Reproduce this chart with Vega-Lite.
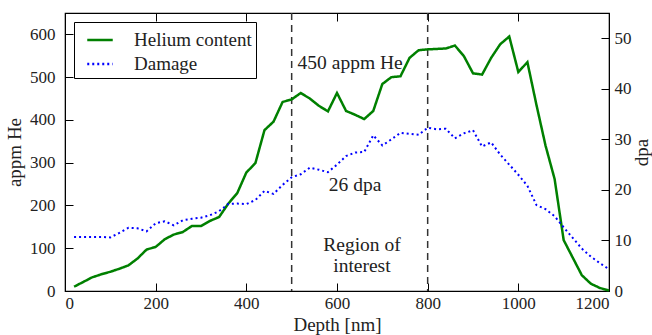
{
  "$schema": "https://vega.github.io/schema/vega-lite/v6.json",
  "width": 544,
  "height": 278,
  "autosize": {"type": "none"},
  "padding": {"left": 65, "top": 13, "right": 43, "bottom": 44},
  "background": "white",
  "config": {
    "font": "Liberation Serif",
    "view": {"stroke": "black", "strokeWidth": 1.2},
    "axis": {
      "labelFont": "Liberation Serif",
      "labelFontSize": 17,
      "titleFont": "Liberation Serif",
      "titleFontSize": 19,
      "titleFontWeight": "normal",
      "labelColor": "#222",
      "titleColor": "#222",
      "tickColor": "black",
      "domainColor": "black",
      "grid": false,
      "tickSize": -8,
      "labelPadding": 12,
      "format": "d"
    },
    "legend": {
      "labelFont": "Liberation Serif",
      "labelFontSize": 19,
      "labelColor": "#222"
    }
  },
  "datasets": {
    "rules": [{"depth": 500}, {"depth": 800}],
    "helium": [
      {"depth": 20, "appm": 10}, {"depth": 40, "appm": 21}, {"depth": 60, "appm": 32}, {"depth": 80, "appm": 39},
      {"depth": 100, "appm": 45}, {"depth": 120, "appm": 52}, {"depth": 140, "appm": 60}, {"depth": 160, "appm": 76},
      {"depth": 180, "appm": 97}, {"depth": 200, "appm": 103}, {"depth": 220, "appm": 121}, {"depth": 240, "appm": 132},
      {"depth": 260, "appm": 138}, {"depth": 280, "appm": 152}, {"depth": 300, "appm": 152}, {"depth": 320, "appm": 164},
      {"depth": 340, "appm": 173}, {"depth": 360, "appm": 204}, {"depth": 380, "appm": 229}, {"depth": 400, "appm": 277},
      {"depth": 420, "appm": 299}, {"depth": 440, "appm": 376}, {"depth": 460, "appm": 396}, {"depth": 480, "appm": 442},
      {"depth": 500, "appm": 448}, {"depth": 520, "appm": 463}, {"depth": 540, "appm": 450}, {"depth": 560, "appm": 433},
      {"depth": 580, "appm": 420}, {"depth": 600, "appm": 463}, {"depth": 620, "appm": 421}, {"depth": 640, "appm": 412},
      {"depth": 660, "appm": 402}, {"depth": 680, "appm": 421}, {"depth": 700, "appm": 484}, {"depth": 720, "appm": 500},
      {"depth": 740, "appm": 502}, {"depth": 760, "appm": 545}, {"depth": 780, "appm": 563}, {"depth": 800, "appm": 565},
      {"depth": 820, "appm": 566}, {"depth": 840, "appm": 567}, {"depth": 860, "appm": 574}, {"depth": 880, "appm": 549},
      {"depth": 900, "appm": 509}, {"depth": 920, "appm": 506}, {"depth": 940, "appm": 545}, {"depth": 960, "appm": 577},
      {"depth": 980, "appm": 595}, {"depth": 1000, "appm": 512}, {"depth": 1020, "appm": 535}, {"depth": 1040, "appm": 435},
      {"depth": 1060, "appm": 340}, {"depth": 1080, "appm": 262}, {"depth": 1100, "appm": 119}, {"depth": 1120, "appm": 78},
      {"depth": 1140, "appm": 37}, {"depth": 1160, "appm": 17}, {"depth": 1180, "appm": 7}, {"depth": 1200, "appm": 1}
    ],
    "damage": [
      {"depth": 20, "dpa": 10.7}, {"depth": 40, "dpa": 10.7}, {"depth": 60, "dpa": 10.7}, {"depth": 80, "dpa": 10.7},
      {"depth": 100, "dpa": 10.6}, {"depth": 120, "dpa": 11.5}, {"depth": 140, "dpa": 12.5}, {"depth": 160, "dpa": 12.4},
      {"depth": 180, "dpa": 11.8}, {"depth": 200, "dpa": 13.4}, {"depth": 220, "dpa": 13.8}, {"depth": 240, "dpa": 13.0},
      {"depth": 260, "dpa": 14.0}, {"depth": 280, "dpa": 14.3}, {"depth": 300, "dpa": 14.5}, {"depth": 320, "dpa": 15.0},
      {"depth": 340, "dpa": 15.8}, {"depth": 360, "dpa": 17.2}, {"depth": 380, "dpa": 17.3}, {"depth": 400, "dpa": 17.2},
      {"depth": 420, "dpa": 18.0}, {"depth": 440, "dpa": 19.8}, {"depth": 460, "dpa": 19.2}, {"depth": 480, "dpa": 21.0},
      {"depth": 500, "dpa": 22.5}, {"depth": 520, "dpa": 23.1}, {"depth": 540, "dpa": 24.4}, {"depth": 560, "dpa": 24.0},
      {"depth": 580, "dpa": 23.5}, {"depth": 600, "dpa": 25.0}, {"depth": 620, "dpa": 26.7}, {"depth": 640, "dpa": 27.4},
      {"depth": 660, "dpa": 27.5}, {"depth": 680, "dpa": 30.8}, {"depth": 700, "dpa": 28.8}, {"depth": 720, "dpa": 30.0},
      {"depth": 740, "dpa": 31.3}, {"depth": 760, "dpa": 31.1}, {"depth": 780, "dpa": 30.9}, {"depth": 800, "dpa": 32.3},
      {"depth": 820, "dpa": 32.0}, {"depth": 840, "dpa": 32.1}, {"depth": 860, "dpa": 30.2}, {"depth": 880, "dpa": 31.2},
      {"depth": 900, "dpa": 31.8}, {"depth": 920, "dpa": 28.6}, {"depth": 940, "dpa": 29.4}, {"depth": 960, "dpa": 27.0},
      {"depth": 980, "dpa": 25.0}, {"depth": 1000, "dpa": 23.0}, {"depth": 1020, "dpa": 20.8}, {"depth": 1040, "dpa": 17.0},
      {"depth": 1060, "dpa": 16.2}, {"depth": 1080, "dpa": 14.8}, {"depth": 1100, "dpa": 12.6}, {"depth": 1120, "dpa": 10.5},
      {"depth": 1140, "dpa": 8.4}, {"depth": 1160, "dpa": 6.8}, {"depth": 1180, "dpa": 5.5}, {"depth": 1200, "dpa": 4.3}
    ],
    "notes": [
      {"depth": 629, "appm": 533, "label": "450 appm He"},
      {"depth": 640, "appm": 249, "label": "26 dpa"},
      {"depth": 655, "appm": 107, "label": "Region of"},
      {"depth": 655, "appm": 58, "label": "interest"}
    ]
  },
  "layer": [
    {
      "data": {"name": "rules"},
      "mark": {"type": "rule", "strokeDash": [7, 5], "color": "#333", "strokeWidth": 1.5},
      "encoding": {
        "x": {"field": "depth", "type": "quantitative", "scale": {"domain": [0, 1200], "nice": false},
          "axis": {"orient": "top", "labels": false, "title": null, "domain": false, "values": [0, 200, 400, 600, 800, 1000, 1200]}}
      }
    },
    {
      "data": {"name": "helium"},
      "mark": {"type": "line", "strokeWidth": 2.5},
      "encoding": {
        "x": {"field": "depth", "type": "quantitative", "scale": {"domain": [0, 1200], "nice": false},
          "axis": {"orient": "bottom", "title": "Depth [nm]", "values": [0, 200, 400, 600, 800, 1000, 1200], "titlePadding": 4}},
        "y": {"field": "appm", "type": "quantitative", "scale": {"domain": [0, 650], "nice": false},
          "axis": {"orient": "left", "title": "appm He", "values": [0, 100, 200, 300, 400, 500, 600], "labelPadding": 18, "titlePadding": 5}},
        "color": {"datum": "Helium content", "type": "nominal",
          "scale": {"domain": ["Helium content", "Damage"], "range": ["#008000", "#0000ff"]},
          "legend": {"orient": "none", "legendX": 9, "legendY": 9, "title": null, "strokeColor": "black", "fillColor": "white",
            "padding": 4, "symbolType": "stroke", "symbolSize": 650, "symbolStrokeWidth": 2.5, "symbolOffset": 8, "labelOffset": 20, "rowPadding": 0, "cornerRadius": 0}},
        "strokeDash": {"datum": "Helium content", "type": "nominal",
          "scale": {"domain": ["Helium content", "Damage"], "range": [[1, 0], [2, 3]]},
          "legend": {"orient": "none", "legendX": 9, "legendY": 9, "title": null, "strokeColor": "black", "fillColor": "white",
            "padding": 4, "symbolType": "stroke", "symbolSize": 650, "symbolStrokeWidth": 2.5, "symbolOffset": 8, "labelOffset": 20, "rowPadding": 0, "cornerRadius": 0}}
      }
    },
    {
      "data": {"name": "damage"},
      "mark": {"type": "line", "strokeWidth": 2},
      "encoding": {
        "x": {"field": "depth", "type": "quantitative", "scale": {"domain": [0, 1200], "nice": false}, "axis": null},
        "y": {"field": "dpa", "type": "quantitative", "scale": {"domain": [0, 55], "nice": false},
          "axis": {"orient": "right", "title": "dpa", "titleAngle": 270, "values": [0, 10, 20, 30, 40, 50], "labelPadding": 13, "titlePadding": 20}},
        "color": {"datum": "Damage", "type": "nominal"},
        "strokeDash": {"datum": "Damage", "type": "nominal"}
      }
    },
    {
      "data": {"name": "notes"},
      "mark": {"type": "text", "fontSize": 19.5, "font": "Liberation Serif", "color": "#222", "align": "center", "baseline": "middle"},
      "encoding": {
        "x": {"field": "depth", "type": "quantitative", "scale": {"domain": [0, 1200], "nice": false}, "axis": null},
        "y": {"field": "appm", "type": "quantitative", "scale": {"domain": [0, 650], "nice": false}, "axis": null},
        "text": {"field": "label"}
      }
    }
  ],
  "resolve": {"scale": {"y": "independent"}, "axis": {"x": "independent"}}
}
